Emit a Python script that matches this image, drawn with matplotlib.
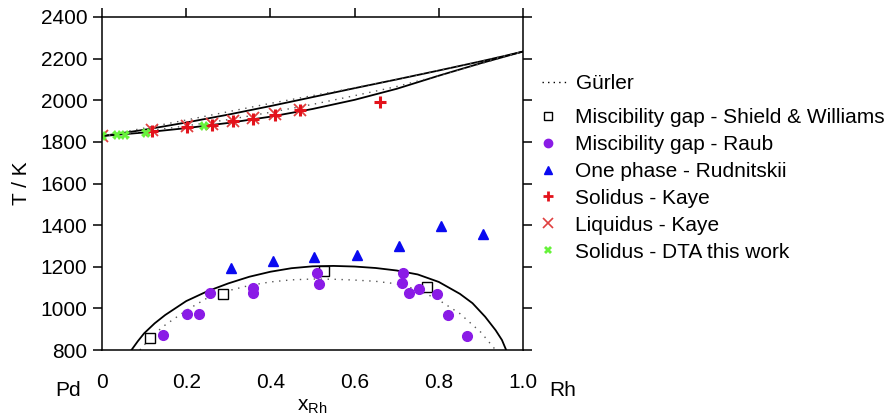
import numpy as np
import matplotlib.pyplot as plt
from matplotlib.lines import Line2D

plt.rcParams['font.family'] = ['Liberation Sans', 'DejaVu Sans']
plt.rcParams['mathtext.fontset'] = 'custom'
plt.rcParams['mathtext.rm'] = 'Liberation Sans'
plt.rcParams['mathtext.it'] = 'Liberation Sans'

# solidus / liquidus (this work, solid) and Gürler (dotted)
liq_x = [0, 0.1, 0.2, 0.3, 0.4, 0.5, 0.6, 0.7, 0.8, 0.9, 0.95, 1.0]
liq_t = [1828, 1858, 1893, 1931, 1972, 2015, 2058, 2100, 2143, 2187, 2210, 2234]
sol_x = [0, 0.1, 0.2, 0.3, 0.4, 0.5, 0.6, 0.7, 0.8, 0.9, 0.95, 1.0]
sol_t = [1828, 1845, 1866, 1891, 1921, 1958, 2002, 2055, 2118, 2178, 2206, 2234]
gliq_x = [0, 0.1, 0.2, 0.3, 0.4, 0.5, 0.6, 0.7, 0.8, 0.9, 1.0]
gliq_t = [1828, 1866, 1905, 1945, 1985, 2022, 2060, 2100, 2143, 2187, 2234]
gsol_x = [0, 0.1, 0.2, 0.3, 0.4, 0.5, 0.6, 0.7, 0.8, 0.9, 1.0]
gsol_t = [1828, 1850, 1877, 1907, 1942, 1980, 2022, 2066, 2118, 2176, 2234]

# miscibility gap
gap_x = [0.07, 0.085, 0.10, 0.125, 0.15, 0.20, 0.25, 0.30, 0.35, 0.40, 0.45,
         0.50, 0.55, 0.60, 0.65, 0.70, 0.75, 0.80, 0.85, 0.88, 0.91, 0.935,
         0.95, 0.96]
gap_t = [800, 842, 880, 928, 968, 1035, 1082, 1120, 1152, 1176, 1193,
         1202, 1204, 1201, 1194, 1182, 1163, 1127, 1070, 1025, 960, 895,
         848, 800]
ggap_x = [0.09, 0.12, 0.15, 0.20, 0.25, 0.30, 0.35, 0.40, 0.45, 0.50, 0.55,
          0.60, 0.65, 0.70, 0.75, 0.80, 0.85, 0.90, 0.935]
ggap_t = [800, 870, 920, 990, 1050, 1085, 1110, 1127, 1137, 1141, 1140,
          1136, 1130, 1118, 1090, 1040, 975, 885, 800]

# experimental points
sw_x = [0.114, 0.287, 0.527, 0.771]
sw_t = [856, 1068, 1181, 1101]
raub_x = [0.144, 0.201, 0.231, 0.257, 0.359, 0.359, 0.511, 0.515, 0.714,
          0.713, 0.730, 0.752, 0.795, 0.823, 0.868]
raub_t = [872, 973, 973, 1072, 1096, 1072, 1172, 1117, 1168, 1120, 1072,
          1094, 1069, 968, 867]
rud_x = [0.306, 0.405, 0.504, 0.606, 0.705, 0.805, 0.904]
rud_t = [1194, 1228, 1245, 1256, 1301, 1396, 1356]
ksol_x = [0.118, 0.201, 0.261, 0.310, 0.359, 0.411, 0.470, 0.660]
ksol_t = [1852, 1873, 1881, 1899, 1911, 1930, 1953, 1993]
kliq_x = [0.0, 0.118, 0.201, 0.261, 0.310, 0.359, 0.411, 0.470]
kliq_t = [1828, 1855, 1877, 1884, 1902, 1914, 1933, 1955]
dta_x = [0.0, 0.036, 0.055, 0.105, 0.242]
dta_t = [1828, 1833, 1833, 1841, 1876]

purple = '#8A1BE6'
red = '#E3121B'
fs = 15

fig = plt.figure(figsize=(8.84, 4.2), dpi=100)
ax = fig.add_axes([102 / 884, 70 / 420, 421 / 884, 333 / 420])

ax.plot(liq_x, liq_t, color='black', lw=1.3)
ax.plot(sol_x, sol_t, color='black', lw=1.3)
ax.plot(gliq_x, gliq_t, color='#555555', lw=1.0, ls=(0, (1, 4)))
ax.plot(gsol_x, gsol_t, color='#555555', lw=1.0, ls=(0, (1, 4)))
ax.plot(gap_x, gap_t, color='black', lw=1.3)
ax.plot(ggap_x, ggap_t, color='#555555', lw=1.0, ls=(0, (1, 4)))

ax.plot(sw_x, sw_t, ls='none', marker='s', ms=6.5, mfc='white', mec='black', mew=1.0)
ax.plot(raub_x, raub_t, ls='none', marker='o', ms=7, color=purple)
ax.plot(rud_x, rud_t, ls='none', marker='^', ms=6.5, color='#0A0AF0')
ax.plot(kliq_x, kliq_t, ls='none', marker='x', ms=8.5, mew=1.3, color='#E04040')
ax.plot(ksol_x, ksol_t, ls='none', marker='+', ms=8, mew=2.2, color=red)
ax.plot(dta_x, dta_t, ls='none', marker='X', ms=7, color='#66F23A', mew=0)

ax.set_xlim(0, 1.0)
ax.set_ylim(800, 2400)
ax.set_xticks([0, 0.2, 0.4, 0.6, 0.8, 1.0])
ax.set_xticklabels(['0', '0.2', '0.4', '0.6', '0.8', '1.0'])
ax.set_yticks(np.arange(800, 2401, 200))
ax.set_xticks([0, 1.0], minor=True)

for s in ax.spines.values():
    s.set_linewidth(1.1)
ax.tick_params(axis='both', which='major', labelsize=fs, width=1.1, length=6.5,
               direction='out', top=True, right=True, bottom=True)
ax.tick_params(axis='x', which='major', bottom=False, pad=10)
ax.tick_params(axis='x', which='minor', bottom=True, top=False, length=6.5,
               width=1.1, direction='out')
ax.tick_params(axis='y', pad=4)

ax.set_ylabel('T / K', fontsize=fs, labelpad=7)
ax.set_xlabel(r'x$_{\mathrm{Rh}}$', fontsize=fs, labelpad=4)
fig.text(68 / 884, 1 - 390 / 420, 'Pd', fontsize=fs, ha='center', va='center')
fig.text(563 / 884, 1 - 390 / 420, 'Rh', fontsize=fs, ha='center', va='center')

h_g = [Line2D([], [], color='black', lw=1.0, ls=(0, (1, 3)))]
leg1 = fig.legend(h_g, ['Gürler'], loc='upper left', bbox_to_anchor=(0.613, 1 - 74 / 420),
                  frameon=False, fontsize=fs, handlelength=1.3, handletextpad=0.35,
                  borderpad=0, borderaxespad=0)

handles = [
    Line2D([], [], ls='none', marker='s', ms=5.5, mfc='white', mec='black', mew=1.0),
    Line2D([], [], ls='none', marker='o', ms=6, color=purple),
    Line2D([], [], ls='none', marker='^', ms=5.5, color='#0A0AF0'),
    Line2D([], [], ls='none', marker='+', ms=7, mew=2, color=red),
    Line2D([], [], ls='none', marker='x', ms=7, mew=1.2, color='#E04040'),
    Line2D([], [], ls='none', marker='X', ms=6, mew=0, color='#66F23A'),
]
labels = ['Miscibility gap - Shield & Williams', 'Miscibility gap - Raub',
          'One phase - Rudnitskii', 'Solidus - Kaye', 'Liquidus - Kaye',
          'Solidus - DTA this work']
leg2 = fig.legend(handles, labels, loc='upper left', bbox_to_anchor=(0.608, 1 - 108 / 420),
                  frameon=False, fontsize=fs, handlelength=1.0, handletextpad=0.8,
                  labelspacing=0.38, borderpad=0, borderaxespad=0)

fig.savefig('out.png', dpi=100)
